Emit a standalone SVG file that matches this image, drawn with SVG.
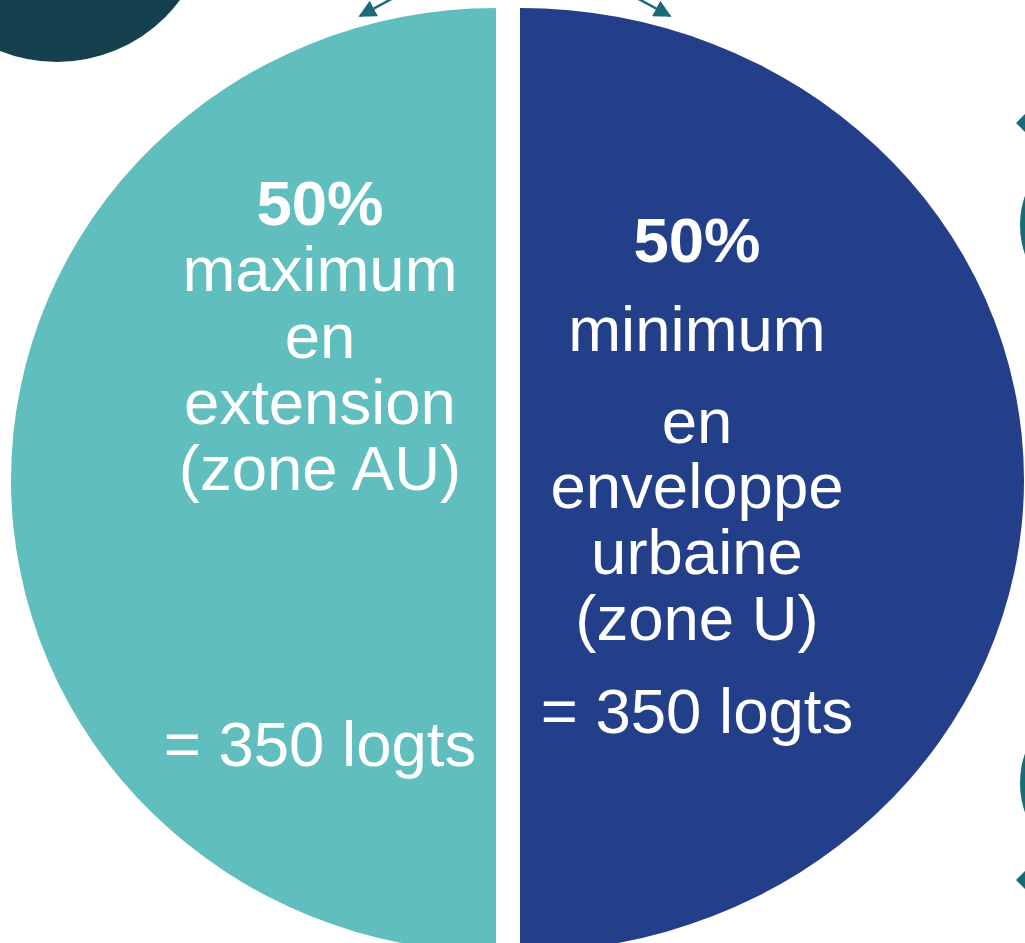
<svg xmlns="http://www.w3.org/2000/svg" width="1025" height="943" viewBox="0 0 1025 943">
  <style>
    .lbl { font-family: "Liberation Sans", Arial, sans-serif; font-size: 63.5px; fill: #ffffff; text-anchor: middle; }
    .pct { font-weight: bold; }
    .deco { fill: #1b6a78; }
    .conn { stroke: #1b6a78; stroke-width: 2.5; fill: none; }
  </style>
  <defs>
    <marker id="head" viewBox="0 0 10 10" refX="9" refY="5" markerWidth="7" markerHeight="7" orient="auto" markerUnits="strokeWidth">
      <path d="M0,0 L10,5 L0,10 Z" fill="#1b6a78"/>
    </marker>
  </defs>

  <rect width="1025" height="943" fill="#ffffff"/>

  <!-- background decorations -->
  <circle cx="57" cy="-91" r="153" fill="#15414f"/>
  <circle class="deco" cx="1110" cy="225" r="90"/>
  <circle class="deco" cx="1110" cy="783" r="90"/>
  <path class="deco" d="M1016,123 L1025,114 L1025,132 Z"/>
  <path class="deco" d="M1016,880 L1025,871 L1025,889 Z"/>

  <!-- connectors -->
  <g id="connectors">
    <line class="conn" x1="397" y1="-4" x2="360" y2="16" marker-end="url(#head)"/>
    <line class="conn" x1="633" y1="-4" x2="670" y2="16" marker-end="url(#head)"/>
  </g>

  <!-- left share: extension -->
  <g id="node-extension">
    <path d="M496,8 L496,952 A485,472 0 0 1 496,8 Z" fill="#60bfbe"/>
    <text class="lbl pct" x="320" y="225">50%</text>
    <text class="lbl" x="320" y="291">maximum</text>
    <text class="lbl" x="320" y="358">en</text>
    <text class="lbl" x="320" y="424">extension</text>
    <text class="lbl" x="320" y="490">(zone AU)</text>
    <text class="lbl" x="320" y="766">= 350 logts</text>
  </g>

  <!-- right share: urban envelope -->
  <g id="node-enveloppe">
    <path d="M520,8 A504,472 0 0 1 520,952 Z" fill="#233f8a"/>
    <text class="lbl pct" x="697" y="262">50%</text>
    <text class="lbl" x="697" y="351">minimum</text>
    <text class="lbl" x="697" y="443">en</text>
    <text class="lbl" x="697" y="508">enveloppe</text>
    <text class="lbl" x="697" y="574">urbaine</text>
    <text class="lbl" x="697" y="640">(zone U)</text>
    <text class="lbl" x="697" y="733">= 350 logts</text>
  </g>
</svg>
